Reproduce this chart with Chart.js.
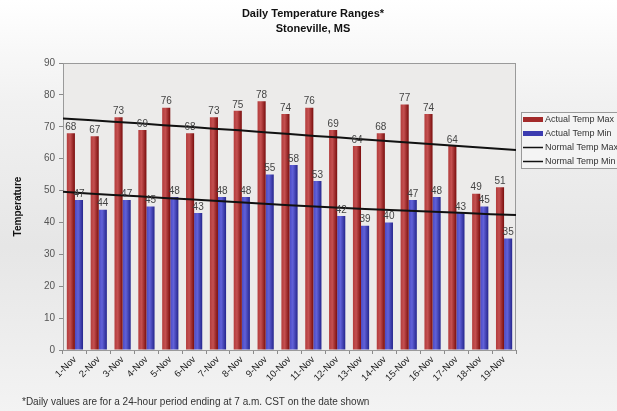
<!DOCTYPE html>
<html>
<head>
<meta charset="utf-8">
<script src="https://cdn.jsdelivr.net/npm/chart.js@4"></script>
<style>
  html, body { margin: 0; padding: 0; }
  body { width: 617px; height: 411px; background: linear-gradient(#ffffff 0%, #f1f1f1 25%, #e6e6e6 60%, #f3f3f3 100%); }
  #wrap { position: relative; width: 617px; height: 411px; }
  #wrap canvas { position: absolute; left: 0; top: 0; }
</style>
</head>
<body>
<div id="wrap">
  <canvas id="barChart" width="617" height="411"></canvas>
  <canvas id="lineChart" width="617" height="411"></canvas>
</div>
<script>
const days = ["1-Nov", "2-Nov", "3-Nov", "4-Nov", "5-Nov", "6-Nov", "7-Nov", "8-Nov", "9-Nov", "10-Nov",
  "11-Nov", "12-Nov", "13-Nov", "14-Nov", "15-Nov", "16-Nov", "17-Nov", "18-Nov", "19-Nov"];
const actualMax = [68, 67, 73, 69, 76, 68, 73, 75, 78, 74, 76, 69, 64, 68, 77, 74, 64, 49, 51];
const actualMin = [47, 44, 47, 45, 48, 43, 48, 48, 55, 58, 53, 42, 39, 40, 47, 48, 43, 45, 35];
const normalMax = [72.6, 72.1, 71.6, 71.1, 70.5, 70.0, 69.4, 68.9, 68.3, 67.7, 67.1, 66.6, 66.0, 65.5, 64.9, 64.4, 63.8, 63.3, 62.7];
const normalMin = [49.6, 49.1, 48.6, 48.2, 47.7, 47.3, 46.8, 46.3, 45.9, 45.4, 45.0, 44.6, 44.2, 43.9, 43.6, 43.3, 43.0, 42.6, 42.3];
const yTicks = [0, 10, 20, 30, 40, 50, 60, 70, 80, 90];
const legendLabels = ["Actual Temp Max", "Actual Temp Min", "Normal Temp Max", "Normal Temp Min"];

const FONT = "'Liberation Sans', Arial, sans-serif";
const CAT_PCT = 0.68;
// plot box shared by both canvases: left 63, top 63, right 516, bottom 350
const PAD = { top: 63, left: 23, right: 101, bottom: 0 };

// shaded bar fill, lighter toward the left, dark on the right edge
function barFill(context, side, stops) {
  const chart = context.chart;
  const area = chart.chartArea;
  if (!area) return stops[1];
  const cw = (area.right - area.left) / days.length;
  const center = area.left + cw * (context.dataIndex + 0.5);
  const half = cw * CAT_PCT / 2;
  const x0 = side === 0 ? center - half : center;
  const g = chart.ctx.createLinearGradient(x0, 0, x0 + half, 0);
  g.addColorStop(0, stops[0]);
  g.addColorStop(0.4, stops[1]);
  g.addColorStop(1, stops[2]);
  return g;
}

const plotBackground = {
  id: "plotBackground",
  beforeDatasetsDraw(chart) {
    const { ctx, chartArea: a } = chart;
    ctx.save();
    ctx.fillStyle = "#ecebea";
    ctx.fillRect(a.left, a.top, a.right - a.left, a.bottom - a.top);
    ctx.strokeStyle = "#9a9a9a";
    ctx.lineWidth = 1;
    ctx.strokeRect(a.left + 0.5, a.top + 0.5, a.right - a.left - 1, a.bottom - a.top);
    ctx.restore();
  }
};

const textAndLegend = {
  id: "textAndLegend",
  afterDraw(chart) {
    const { ctx, chartArea: a } = chart;
    ctx.save();
    ctx.fillStyle = "#111";
    ctx.font = "bold 11px " + FONT;
    ctx.textAlign = "center";
    ctx.textBaseline = "middle";
    ctx.fillText("Daily Temperature Ranges*", 313, 14);
    ctx.fillText("Stoneville, MS", 313, 29);

    // y axis title
    ctx.save();
    ctx.translate(18, (a.top + a.bottom) / 2);
    ctx.rotate(-Math.PI / 2);
    ctx.font = "bold 10px " + FONT;
    ctx.fillText("Temperature", 0, 0);
    ctx.restore();

    // footnote
    ctx.font = "10px " + FONT;
    ctx.fillStyle = "#333";
    ctx.textAlign = "left";
    ctx.fillText("*Daily values are for a 24-hour period ending at 7 a.m. CST on the date shown", 22, 402);

    // legend box
    const lx = 521, ly = 112;
    ctx.fillStyle = "#f4f4f4";
    ctx.fillRect(lx, ly, 110, 56);
    ctx.strokeStyle = "#9a9a9a";
    ctx.lineWidth = 1;
    ctx.strokeRect(lx + 0.5, ly + 0.5, 110, 56);
    legendLabels.forEach((label, i) => {
      const y = ly + 7.5 + i * 14;
      if (i < 2) {
        ctx.fillStyle = i === 0 ? "#a32a2a" : "#3b3bb0";
        ctx.fillRect(lx + 2, y - 2.5, 20, 5);
      } else {
        ctx.strokeStyle = "#111";
        ctx.lineWidth = 1.5;
        ctx.beginPath();
        ctx.moveTo(lx + 2, y);
        ctx.lineTo(lx + 22, y);
        ctx.stroke();
      }
      ctx.fillStyle = "#333";
      ctx.font = "9px " + FONT;
      ctx.fillText(label, lx + 24, y + 0.5);
    });
    ctx.restore();
  }
};

const barChart = new Chart(document.getElementById("barChart"), {
  type: "bar",
  data: {
    labels: days,
    datasets: [
      {
        label: legendLabels[0],
        data: actualMax,
        backgroundColor: ctx => barFill(ctx, 0, ["#b33c3c", "#c45050", "#7a0d0d"]),
        categoryPercentage: CAT_PCT,
        barPercentage: 1
      },
      {
        label: legendLabels[1],
        data: actualMin,
        backgroundColor: ctx => barFill(ctx, 1, ["#4a4ac4", "#6161d8", "#25258c"]),
        categoryPercentage: CAT_PCT,
        barPercentage: 1
      }
    ]
  },
  options: {
    responsive: false,
    animation: false,
    layout: { padding: PAD },
    plugins: {
      legend: { display: false },
      title: { display: false },
      tooltip: { enabled: false }
    },
    scales: {
      x: {
        grid: { drawOnChartArea: false, color: "#8a8a8a", tickLength: 4 },
        border: { color: "#8a8a8a" },
        ticks: {
          color: "#222",
          font: { family: FONT, size: 9.5 },
          minRotation: 45,
          maxRotation: 45,
          padding: 0
        },
        afterFit(scale) { scale.height = 61; }
      },
      y: {
        min: 0,
        max: 90,
        afterBuildTicks(scale) { scale.ticks = yTicks.map(v => ({ value: v })); },
        grid: { drawOnChartArea: false, color: "#8a8a8a", tickLength: 4 },
        border: { color: "#8a8a8a" },
        ticks: { color: "#555", font: { family: FONT, size: 10 }, padding: 4 },
        afterFit(scale) { scale.width = 40; }
      }
    }
  },
  plugins: [plotBackground, textAndLegend]
});

// value labels over the bars, drawn after the normal lines
const valueLabels = {
  id: "valueLabels",
  afterDatasetsDraw(chart) {
    const ctx = chart.ctx;
    ctx.save();
    ctx.font = "10px " + FONT;
    ctx.fillStyle = "#444";
    ctx.textAlign = "center";
    ctx.textBaseline = "bottom";
    [actualMax, actualMin].forEach((values, i) => {
      barChart.getDatasetMeta(i).data.forEach((bar, j) => {
        ctx.fillText(String(values[j]), bar.x, bar.y - 1);
      });
    });
    ctx.restore();
  }
};

// normal temperature lines run edge to edge of the plot box
new Chart(document.getElementById("lineChart"), {
  type: "line",
  data: {
    labels: days,
    datasets: [
      { label: legendLabels[2], data: normalMax, borderColor: "#111", borderWidth: 2, pointRadius: 0 },
      { label: legendLabels[3], data: normalMin, borderColor: "#111", borderWidth: 2, pointRadius: 0 }
    ]
  },
  options: {
    responsive: false,
    animation: false,
    layout: { padding: { top: 63, left: 63, right: 101, bottom: 61 } },
    plugins: {
      legend: { display: false },
      title: { display: false },
      tooltip: { enabled: false }
    },
    scales: {
      x: { display: false, offset: false },
      y: { display: false, min: 0, max: 90 }
    }
  },
  plugins: [valueLabels]
});
</script>
</body>
</html>
